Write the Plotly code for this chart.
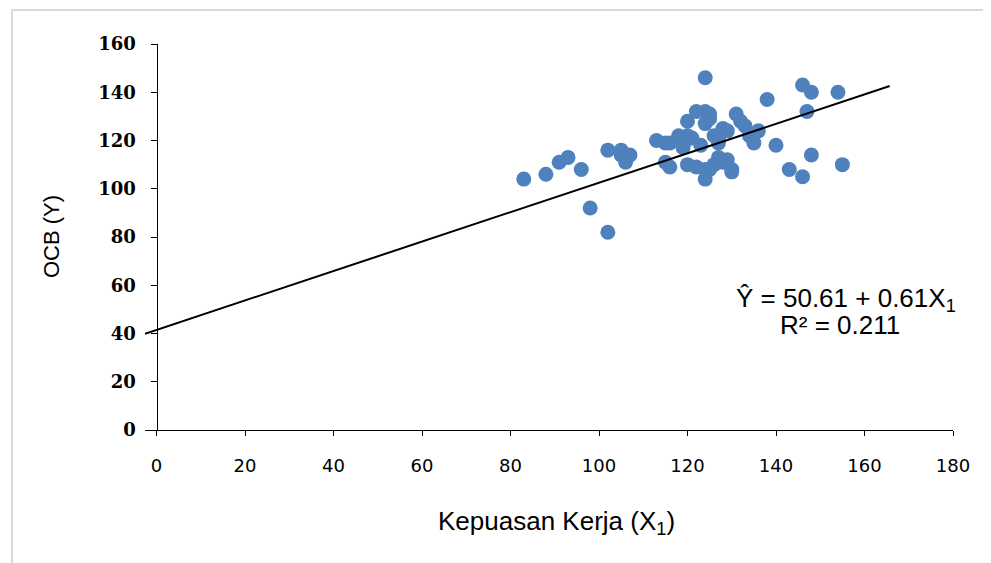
import plotly.graph_objects as go

# Data
kepuasan_x = [83, 88, 91, 93, 96, 98, 102, 102, 105, 105, 106, 107, 113, 115, 116, 118, 119, 120,
              115, 116, 120, 122, 124, 124, 124, 125, 123, 120, 122, 124, 124, 125, 127, 129,
              130, 127, 126, 128, 129, 131, 132, 133, 134, 135, 136, 138, 140, 143, 146, 146,
              148, 147, 148, 154, 155, 121, 125, 126, 128, 130, 127, 119]
ocb_y = [104, 106, 111, 113, 108, 92, 82, 116, 116, 114, 111, 114, 120, 119, 119, 122, 117, 122,
         111, 109, 128, 132, 132, 146, 127, 129, 118, 110, 109, 108, 104, 108, 113, 112,
         108, 119, 122, 125, 124, 131, 128, 126, 122, 119, 124, 137, 118, 108, 105, 143,
         140, 132, 114, 140, 110, 121, 131, 110, 111, 107, 121, 118]

trend_x = [-2.6, 165.7]
trend_intercept = 41.5
trend_slope = 0.61
trend_y = [trend_intercept + trend_slope * v for v in trend_x]

x_ticks = [0, 20, 40, 60, 80, 100, 120, 140, 160, 180]
y_ticks = [0, 20, 40, 60, 80, 100, 120, 140, 160]

fig = go.Figure()
fig.add_trace(go.Scatter(x=kepuasan_x, y=ocb_y, mode="markers",
                         marker=dict(size=15, color="#4F81BD"), showlegend=False))
fig.add_trace(go.Scatter(x=trend_x, y=trend_y, mode="lines",
                         line=dict(color="black", width=2), showlegend=False))

xmin, xmax = -2.6, 180
ypos = (0 - xmin) / (xmax - xmin)

# plot area in reference pixels: x 145..953, y 44..430 (page has 8px body margin)
PW, PH = 808, 386


def px(xp):
    return (xp - 145) / PW


def py(yp):
    return (430 - yp) / PH


def label(text, x, y, size, angle=0):
    return dict(text=text, xref="paper", yref="paper", x=px(x), y=py(y),
                xanchor="center", yanchor="middle", showarrow=False, textangle=angle,
                font=dict(family="Liberation Sans", size=size, color="black"))


fig.update_layout(
    width=991, height=563,
    margin=dict(l=137, r=46, t=36, b=141),
    paper_bgcolor="white", plot_bgcolor="white",
    xaxis=dict(range=[xmin, xmax], tickvals=x_ticks, showgrid=False, zeroline=False,
               showline=True, linecolor="black", linewidth=1,
               ticks="outside", ticklen=5, tickcolor="black",
               tickfont=dict(family="DejaVu Sans", size=18, color="black"),
               ticklabelstandoff=14),
    yaxis=dict(range=[0, 160], tickvals=y_ticks, showgrid=False, zeroline=False,
               showline=True, linecolor="black", linewidth=1,
               anchor="free", position=ypos,
               ticks="outside", ticklen=6, tickcolor="black",
               tickfont=dict(family="DejaVu Serif", size=18, color="black", weight="bold"),
               ticklabelstandoff=11),
    shapes=[dict(type="rect", xref="paper", yref="paper",
                 x0=px(12), x1=px(985), y0=py(600), y1=py(10),
                 line=dict(color="#D9D9D9", width=2), fillcolor="rgba(0,0,0,0)", layer="below")],
    annotations=[
        label("Kepuasan Kerja (X<sub>1</sub>)", 556, 522, 26),
        label("OCB (Y)", 51, 237, 22, angle=-90),
        label("Ŷ = 50.61 + 0.61X<sub>1</sub>", 846, 299, 26),
        label("R² = 0.211", 840, 325, 26),
    ],
)

fig.write_html("out.html")
